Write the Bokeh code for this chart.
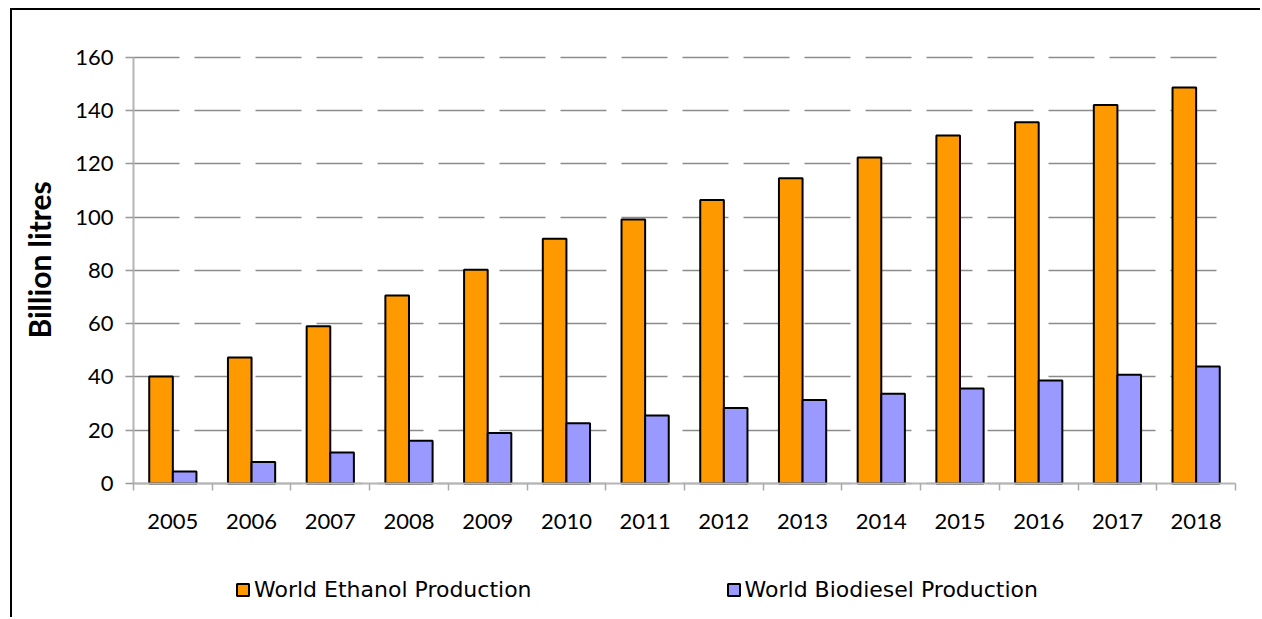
import math
from bokeh.plotting import figure
from bokeh.models import FixedTicker, Legend, LegendItem, ColumnDataSource, Range1d, Label
from bokeh.transform import dodge
from bokeh.embed import file_html
from bokeh.resources import INLINE

years = [2005, 2006, 2007, 2008, 2009, 2010, 2011, 2012, 2013, 2014, 2015, 2016, 2017, 2018]
ethanol = [40.2, 47.3, 59.1, 70.6, 80.3, 91.9, 99.2, 106.5, 114.6, 122.4, 130.7, 135.7, 142.2, 148.7]
biodiesel = [4.5, 8.1, 11.6, 16.1, 19.0, 22.6, 25.5, 28.4, 31.4, 33.7, 35.7, 38.7, 40.8, 43.9]
y_ticks = [0, 20, 40, 60, 80, 100, 120, 140, 160]
series_labels = ["World Ethanol Production", "World Biodiesel Production"]
y_label = "Billion litres"

src = ColumnDataSource(dict(year=years, ethanol=ethanol, biodiesel=biodiesel))

x_lo, x_hi = years[0] - 0.5, years[-1] + 0.5
p = figure(width=1250, height=609, output_backend="svg", toolbar_location=None,
           x_range=Range1d(x_lo - 1.537, x_hi + 0.343),
           y_range=Range1d(-51.08, 177.65),
           min_border=0, min_border_left=0, min_border_right=0,
           min_border_top=0, min_border_bottom=0)
p.styles = {"margin-left": "10px", "margin-top": "8px",
            "border-left": "2px solid #000", "border-top": "2px solid #000"}
p.outline_line_color = None
p.background_fill_color = "white"
p.border_fill_color = "white"

r1 = p.vbar(x=dodge("year", -0.15, range=p.x_range), top="ethanol", width=0.3, source=src,
            fill_color="#FF9900", line_color="black", line_width=2)
r2 = p.vbar(x=dodge("year", 0.15, range=p.x_range), top="biodiesel", width=0.3, source=src,
            fill_color="#9999FF", line_color="black", line_width=2)

# x axis (drawn at y = 0)
xa = p.xaxis[0]
xa.fixed_location = 0
xa.bounds = (x_lo, x_hi)
xa.ticker = FixedTicker(ticks=years, minor_ticks=[y - 0.5 for y in years] + [x_hi])
xa.major_tick_out = 0
xa.major_tick_in = 0
xa.minor_tick_out = 7
xa.minor_tick_in = 0
xa.minor_tick_line_color = "#aaaaaa"
xa.minor_tick_line_width = 1.5
xa.axis_line_color = "#b5b5b5"
xa.axis_line_width = 2
xa.major_label_standoff = 24
xa.major_label_text_font = "Lato"
xa.major_label_text_font_size = "22px"
xa.major_label_text_color = "black"
p.xgrid.grid_line_color = None

# y axis (drawn at the left edge of the categories)
ya = p.yaxis[0]
ya.fixed_location = x_lo
ya.bounds = (y_ticks[0], y_ticks[-1])
ya.ticker = FixedTicker(ticks=y_ticks)
ya.minor_tick_line_color = None
ya.major_tick_out = 8
ya.major_tick_in = 0
ya.major_tick_line_color = "#999999"
ya.major_tick_line_width = 1.5
ya.axis_line_color = "#b5b5b5"
ya.axis_line_width = 2
ya.major_label_standoff = 12
ya.major_label_text_font = "Lato"
ya.major_label_text_font_size = "22px"
ya.major_label_text_color = "black"

p.ygrid.ticker = FixedTicker(ticks=y_ticks)
p.ygrid.cross_bounds = (x_lo, x_hi - 0.14)
p.ygrid.grid_line_color = "#8c8c8c"
p.ygrid.grid_line_width = 1.5
p.ygrid.grid_line_dash = "46 15"

p.add_layout(Label(x=26, y=84, x_units="screen", text=y_label, angle=math.pi / 2,
                   text_align="center", text_baseline="middle",
                   text_font="Lato", text_font_style="bold", text_font_size="30px",
                   text_color="black"))

leg = Legend(items=[LegendItem(label=series_labels[0], renderers=[r1]),
                    LegendItem(label=series_labels[1], renderers=[r2])],
             location=(223, 17), orientation="horizontal", padding=0, margin=0, spacing=194,
             glyph_width=15, glyph_height=15, label_standoff=4,
             label_text_font="DejaVu Sans", label_text_font_size="22px",
             label_text_color="black", border_line_color=None,
             background_fill_alpha=0)
p.add_layout(leg, "center")

open("out.html", "w").write(file_html(p, INLINE))
